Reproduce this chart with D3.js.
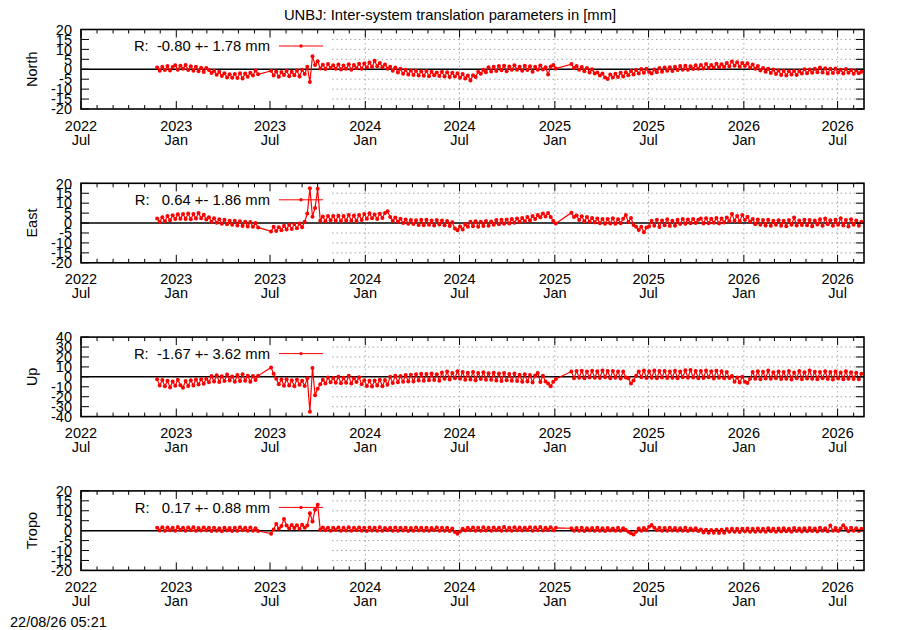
<!DOCTYPE html>
<html><head><meta charset="utf-8">
<script src="https://cdn.jsdelivr.net/npm/d3@7"></script>
<style>body{margin:0;background:#fff}svg{display:block}text{font-family:"Liberation Sans",Arial,sans-serif;fill:#000}</style>
</head><body><svg id="c" width="900" height="630"></svg>
<script>
const titleText = "UNBJ: Inter-system translation parameters in [mm]";
const stampText = "22/08/26 05:21";
const panelNames = ["North", "East", "Up", "Tropo"];
const legendTexts = ["R:  -0.80 +- 1.78 mm", "R:   0.64 +- 1.86 mm", "R:  -1.67 +- 3.62 mm", "R:   0.17 +- 0.88 mm"];
const yRanges = [[-20, 20], [-20, 20], [-40, 40], [-20, 20]];
const yTickSteps = [5, 5, 10, 5];
const xDomain = ["2022-07-01", "2026-08-21"];
const xMajorTicks = ["2022-07-01", "2023-01-01", "2023-07-01", "2024-01-01", "2024-07-01", "2025-01-01", "2025-07-01", "2026-01-01", "2026-07-01"];
const seriesStart = "2022-11-25";
const seriesStepDays = 5;

const north = [
0.9,-0.8,1.2,-0.4,1.6,-0.6,1.1,2.0,-0.2,1.8,
0.2,2.1,-0.4,1.5,-0.7,1.3,-1.0,0.8,-1.4,0.6,
-0.4,-1.9,-0.9,-2.8,-1.3,-3.4,-2.0,-4.1,-2.5,-4.3,
-2.4,-4.4,-2.0,-4.6,-2.2,-3.8,-1.7,-3.1,-0.6,-2.5,
null,null,null,null,-0.8,-3.2,-1.1,-3.8,-1.4,-2.9,
-0.7,-3.5,-1.2,-3.0,-0.6,-3.6,-0.3,-2.4,1.2,-6.4,
6.6,2.2,4.0,0.4,2.3,0.1,2.6,0.6,2.0,0.3,
2.4,-0.1,1.9,0.2,2.5,-0.2,2.1,0.5,2.8,0.3,
2.9,0.9,3.4,1.2,4.3,1.5,3.2,1.0,2.4,0.3,
1.2,-0.8,0.9,-1.6,0.2,-2.3,-0.3,-2.7,-0.6,-2.9,
-0.8,-3.1,-1.0,-3.3,-0.9,-3.5,-1.2,-3.0,-1.6,-3.4,
-1.3,-3.6,-1.5,-3.9,-1.8,-3.7,-2.0,-4.3,-2.4,-4.6,
-3.1,-5.6,-3.0,-3.9,-1.2,-2.3,-0.2,-1.5,1.0,-1.1,
1.2,-0.9,1.6,-0.5,1.8,-1.0,1.4,-0.3,2.0,-0.2,
1.3,-0.8,1.7,-0.4,1.5,-1.2,1.2,-0.3,1.9,-0.1,
1.0,-2.6,1.4,2.2,0.4,null,null,null,null,null,
2.6,0.6,1.6,-0.3,1.1,-1.0,0.6,-1.6,0.0,-2.1,
-1.6,-3.2,-2.1,-4.2,-4.9,-2.6,-4.1,-2.3,-3.9,-1.8,
-3.6,-1.5,-3.0,-0.9,-2.6,-0.4,-2.2,0.1,-1.7,0.3,
-1.4,-2.2,-0.1,-1.5,0.6,-1.2,0.9,-0.8,1.0,-0.9,
1.3,-0.4,1.6,-0.2,1.8,-0.3,1.5,0.1,2.0,0.2,
2.2,0.4,2.6,0.6,2.1,0.7,2.8,1.0,2.5,1.1,
3.1,1.4,3.9,1.8,3.5,1.2,3.2,1.6,3.0,0.8,
2.4,0.2,1.6,-0.6,0.6,-1.3,0.2,-1.9,-0.1,-2.4,
-0.6,-2.9,-0.8,-3.1,-1.0,-2.6,-0.7,-2.9,-0.9,-2.2,
0.0,-2.0,-0.1,-1.7,0.2,-1.5,0.9,-1.6,0.5,-2.1,
0.3,-1.9,0.4,-1.6,-0.2,-2.2,0.1,-1.8,-0.4,-2.3,
-0.6,-2.0,-1.3];

const east = [
2.3,0.6,2.9,0.9,3.5,1.4,3.9,2.0,4.4,2.2,
4.6,2.0,4.8,1.9,4.5,2.3,5.1,2.4,4.2,1.8,
2.9,0.6,2.4,0.1,1.9,-0.4,1.6,-0.6,1.2,-0.8,
1.1,-1.2,0.9,-1.5,0.6,-1.7,0.5,-1.9,0.0,-2.2,
null,null,null,null,-4.2,-1.9,-4.0,-2.1,-3.6,-1.3,
-3.3,-0.8,-3.0,-0.5,-2.6,-0.2,-2.1,0.6,4.8,17.5,
3.2,7.6,17.2,1.2,3.3,0.9,3.6,1.4,3.5,1.1,
3.7,1.0,3.6,1.3,4.0,1.2,3.8,1.0,4.1,1.5,
4.6,2.2,4.9,2.4,4.3,2.0,4.7,2.6,5.1,5.9,
3.1,1.2,2.8,0.6,2.2,0.0,1.8,-0.3,1.5,-0.5,
1.4,-1.0,1.6,-1.1,1.7,-0.9,1.3,-1.2,1.5,-0.7,
1.3,-1.1,1.0,-1.5,0.4,-2.8,-3.6,-1.7,-3.2,-0.6,
-1.8,0.6,-1.6,0.9,-1.9,0.7,-1.5,1.0,-1.3,0.8,
-0.8,1.5,-0.6,1.7,-0.3,1.8,-0.2,2.0,0.1,2.3,
0.6,2.6,0.9,3.1,1.3,3.5,2.0,4.0,2.9,4.8,
3.3,5.0,3.1,1.0,-0.2,null,null,null,null,null,
5.2,3.0,3.8,1.5,3.4,0.9,3.0,0.7,2.6,0.4,
2.3,-0.1,2.1,-0.3,2.0,-0.2,2.4,-0.4,1.9,-0.1,
2.2,4.0,0.5,2.6,-1.0,-1.9,-3.5,-1.8,-4.6,-2.3,
-1.7,1.2,-1.4,1.6,-2.0,1.3,-1.1,1.9,-1.5,1.2,
-1.4,1.6,-0.5,2.0,-0.3,1.8,-0.1,2.1,0.0,1.7,
2.3,-0.2,2.4,-0.1,2.2,0.1,2.6,-0.2,2.3,0.3,
2.8,0.9,4.5,1.2,3.6,0.8,4.1,1.5,3.2,0.7,
2.1,-0.6,1.8,-0.9,1.5,-1.2,1.6,-1.4,1.2,-0.8,
1.4,-1.3,1.1,-1.6,1.5,-0.9,2.8,-1.2,1.3,-1.0,
1.7,-1.1,1.5,-1.6,1.3,-0.7,1.9,-1.3,2.3,-0.6,
1.4,-1.4,1.6,-0.8,2.4,-1.2,1.5,-1.7,1.9,-0.9,
1.3,-1.4,0.6];

const up = [
-2.3,-8.6,-3.1,-9.4,-4.0,-10.8,-4.6,-9.0,-2.8,-8.5,
-11.0,-4.2,-9.1,-3.5,-8.7,-2.6,-7.8,-2.4,-7.0,-1.9,
-5.4,0.9,-4.8,1.6,-5.2,0.7,-4.1,2.3,-3.6,0.4,
-4.9,1.8,-4.3,2.5,-3.8,1.2,-5.0,0.9,-3.2,1.0,
null,null,null,null,9.5,3.2,-1.8,-7.4,-2.6,-9.0,
-2.3,-8.8,-3.5,-9.4,-2.7,-7.9,-4.0,-9.1,-1.5,-35.0,
9.0,-18.5,-12.0,-7.5,-2.9,-6.8,-0.6,-5.4,-1.1,-6.0,
0.2,-6.5,-0.8,-5.9,1.0,-6.8,-1.3,-5.2,-0.5,-7.4,
-3.4,-9.2,-4.0,-9.8,-3.6,-8.7,-2.8,-9.5,-3.1,-8.0,
0.0,-6.3,1.2,-5.5,0.8,-4.9,1.9,-4.6,2.2,-4.8,
2.6,-3.6,3.1,-4.0,2.8,-3.5,3.4,-3.1,2.5,-3.8,
4.5,-1.9,5.3,-2.6,4.0,-1.4,5.6,-2.0,4.8,-2.9,
4.2,-2.7,5.0,-3.3,3.9,-2.1,4.6,-2.8,3.6,-3.0,
4.1,-3.6,3.3,-4.1,3.8,-3.5,2.9,-3.9,3.4,-4.2,
2.1,-5.0,2.6,-4.8,1.8,-5.6,1.4,4.0,-5.2,1.0,
-4.6,-6.8,-9.5,-5.0,-2.2,null,null,null,null,null,
5.3,-1.5,5.8,-0.8,6.2,-1.3,5.4,-0.6,6.1,-1.0,
5.7,-1.2,6.5,-0.5,5.9,-1.4,6.0,-0.9,5.5,-1.6,
5.4,-0.7,-1.5,-6.8,-3.6,1.2,5.3,-0.4,6.3,-1.1,
5.6,-0.9,6.4,-1.5,5.8,-0.6,6.0,-1.2,5.4,-0.8,
6.1,-1.3,5.5,-0.4,6.6,-1.0,7.0,-0.7,5.9,-1.4,
5.8,-1.1,6.3,-0.5,5.6,-1.6,6.2,-0.9,5.7,-1.3,
4.8,-1.2,0.8,-5.0,-0.6,-5.8,0.2,-4.9,-6.3,-2.0,
4.9,-1.9,5.6,-2.4,5.1,-1.6,6.3,-2.0,4.7,-1.4,
5.5,-2.2,4.9,-1.8,5.9,-2.6,4.4,-1.5,6.0,-2.3,
4.6,-1.7,6.5,-2.0,5.2,-2.5,4.8,-1.3,5.7,-2.1,
4.9,-2.7,5.3,-1.6,4.5,-2.4,5.6,-1.9,4.7,-2.2,
4.1,-2.5,3.0];

const tropo = [
1.5,0.1,1.7,0.0,1.6,0.2,1.4,-0.1,1.8,0.3,
1.5,0.0,1.6,0.2,1.7,-0.1,1.3,0.1,1.6,0.2,
1.4,-0.2,1.5,0.0,1.2,-0.3,1.4,0.1,1.3,-0.2,
1.5,0.0,1.7,0.2,1.4,-0.1,1.6,0.0,1.2,-0.2,
null,null,null,null,-1.5,0.6,3.4,1.0,2.4,5.8,
2.6,1.1,2.9,1.3,2.7,0.9,3.0,1.4,2.6,8.8,
4.6,10.5,13.0,0.4,1.6,0.2,1.5,0.0,1.4,0.3,
1.6,0.0,1.5,0.1,1.7,-0.1,1.4,0.2,1.6,0.0,
1.5,-0.2,1.6,0.1,1.4,-0.1,1.7,0.0,1.3,0.2,
1.5,-0.1,1.6,0.0,1.4,0.1,1.5,-0.2,1.3,0.0,
1.6,0.1,1.4,-0.1,1.5,0.0,1.3,0.2,1.6,-0.1,
1.4,0.0,1.5,-0.2,1.1,-0.7,-1.6,-0.4,0.9,0.1,
1.5,0.2,1.6,-0.1,1.4,0.0,1.7,0.1,1.5,-0.1,
1.6,0.2,1.4,0.0,1.8,0.1,1.5,-0.1,1.7,0.2,
1.6,0.1,1.5,0.3,1.7,0.0,1.6,0.2,1.8,0.1,
1.5,0.3,1.7,0.2,1.4,null,null,null,null,null,
1.2,-0.1,1.3,0.0,1.4,-0.2,1.2,0.1,1.3,-0.1,
1.4,0.0,1.2,-0.2,1.3,0.1,1.1,-0.1,1.4,0.0,
1.2,0.3,-0.6,-1.3,-1.9,-0.5,1.1,0.0,1.3,0.2,
1.9,2.9,1.4,0.2,1.5,0.0,1.3,-0.1,1.4,0.1,
1.3,-0.1,1.2,0.0,1.4,-0.2,1.1,0.1,1.2,-0.2,
0.6,-0.9,0.4,-1.1,0.3,-1.0,0.5,-1.2,0.4,-1.1,
0.8,-0.6,0.9,-0.5,1.0,-0.7,0.9,-0.4,1.1,-0.6,
1.0,-0.5,1.1,-0.4,0.9,-0.6,1.2,-0.3,1.0,-0.5,
1.1,-0.4,1.2,-0.3,1.0,-0.5,1.3,-0.2,1.1,-0.4,
1.2,-0.3,1.3,-0.2,1.1,-0.4,1.4,-0.1,1.2,-0.3,
2.6,0.0,1.3,-0.2,1.1,2.7,1.2,-0.3,1.4,-0.1,
1.2,-0.2,0.9];

const seriesList = [north, east, up, tropo];

// ---- layout ----
const W = 900, H = 630;
const L = 81, R = 864;
const panelH = 79.5;
const panelTop = k => 29.5 + k * 153.8;
const keyRight = 332;
const parse = d3.utcParse("%Y-%m-%d");
const fmtYear = d3.utcFormat("%Y"), fmtMon = d3.utcFormat("%b");
const FS = 14.5;

const svg = d3.select("#c");
svg.append("rect").attr("width", W).attr("height", H).attr("fill", "#fff");

const x = d3.scaleUtc().domain(xDomain.map(parse)).range([L, R]);
const majors = xMajorTicks.map(parse);
const majorSet = new Set(majors.map(d => +d));
const minors = d3.utcMonth.range(x.domain()[0], x.domain()[1]).filter(d => !majorSet.has(+d));
const start = parse(seriesStart);

svg.append("text").attr("x", 450).attr("y", 19.5).attr("text-anchor", "middle")
  .style("font-size", "14.8px").text(titleText);
svg.append("text").attr("x", 10).attr("y", 627).style("font-size", FS + "px").text(stampText);

seriesList.forEach((vals, k) => {
  const top = panelTop(k), bot = top + panelH;
  const [y0, y1] = yRanges[k];
  const step = yTickSteps[k];
  const y = d3.scaleLinear().domain([y0, y1]).range([bot, top]);
  const g = svg.append("g");
  const yt = d3.range(y0, y1 + step / 2, step);

  // grid (hidden behind opaque key on the left)
  yt.filter(v => v !== 0 && v !== y0 && v !== y1).forEach(v => {
    g.append("line").attr("x1", keyRight).attr("x2", R).attr("y1", y(v)).attr("y2", y(v))
      .attr("stroke", "#a8a8a8").attr("stroke-width", 1).attr("stroke-dasharray", "1.5,3");
  });
  majors.filter(d => x(d) > keyRight && x(d) < R).forEach(d => {
    g.append("line").attr("x1", x(d)).attr("x2", x(d)).attr("y1", top).attr("y2", bot)
      .attr("stroke", "#a8a8a8").attr("stroke-width", 1).attr("stroke-dasharray", "1.5,3");
  });

  // zero line
  g.append("line").attr("x1", L).attr("x2", R).attr("y1", y(0)).attr("y2", y(0))
    .attr("stroke", "#000").attr("stroke-width", 1.5);

  // data
  const pts = vals.map((v, i) => ({ d: d3.utcDay.offset(start, i * seriesStepDays), v }))
    .filter(p => p.v !== null);
  const line = d3.line().x(p => x(p.d)).y(p => y(p.v));
  g.append("path").attr("d", line(pts)).attr("fill", "none").attr("stroke", "#ff0000").attr("stroke-width", 1.2);
  g.selectAll("circle.pt").data(pts).enter().append("circle")
    .attr("cx", p => x(p.d)).attr("cy", p => y(p.v)).attr("r", 2).attr("fill", "#ff0000");

  // frame
  g.append("rect").attr("x", L).attr("y", top).attr("width", R - L).attr("height", panelH)
    .attr("fill", "none").attr("stroke", "#000").attr("stroke-width", 1.6);

  // x ticks (mirrored)
  majors.forEach(d => {
    const xx = x(d);
    g.append("line").attr("x1", xx).attr("x2", xx).attr("y1", bot).attr("y2", bot - 8).attr("stroke", "#000");
    g.append("line").attr("x1", xx).attr("x2", xx).attr("y1", top).attr("y2", top + 8).attr("stroke", "#000");
    g.append("text").attr("x", xx).attr("y", bot + 21.5).attr("text-anchor", "middle")
      .style("font-size", FS + "px").text(fmtYear(d));
    g.append("text").attr("x", xx).attr("y", bot + 35.5).attr("text-anchor", "middle")
      .style("font-size", FS + "px").text(fmtMon(d));
  });
  minors.forEach(d => {
    const xx = x(d);
    g.append("line").attr("x1", xx).attr("x2", xx).attr("y1", bot).attr("y2", bot - 4).attr("stroke", "#000");
    g.append("line").attr("x1", xx).attr("x2", xx).attr("y1", top).attr("y2", top + 4).attr("stroke", "#000");
  });

  // y ticks (mirrored) and labels
  yt.forEach(v => {
    const yy = y(v);
    g.append("line").attr("x1", L).attr("x2", L + 8).attr("y1", yy).attr("y2", yy).attr("stroke", "#000");
    g.append("line").attr("x1", R).attr("x2", R - 8).attr("y1", yy).attr("y2", yy).attr("stroke", "#000");
    g.append("text").attr("x", 72).attr("y", yy).attr("dy", "0.36em").attr("text-anchor", "end")
      .style("font-size", FS + "px").text(v);
  });

  // axis label
  g.append("text").attr("transform", `translate(37,${(top + bot) / 2}) rotate(-90)`)
    .attr("text-anchor", "middle").style("font-size", FS + "px").text(panelNames[k]);

  // key
  const ky = top + 16.5;
  g.append("text").attr("x", 270).attr("y", ky).attr("dy", "0.36em").attr("text-anchor", "end")
    .style("font-size", "14.8px").style("white-space", "pre").text(legendTexts[k]);
  g.append("line").attr("x1", 279).attr("x2", 323).attr("y1", ky).attr("y2", ky)
    .attr("stroke", "#ff0000").attr("stroke-width", 1);
  g.append("circle").attr("cx", 301).attr("cy", ky).attr("r", 1.7).attr("fill", "#ff0000");
});
</script></body></html>
